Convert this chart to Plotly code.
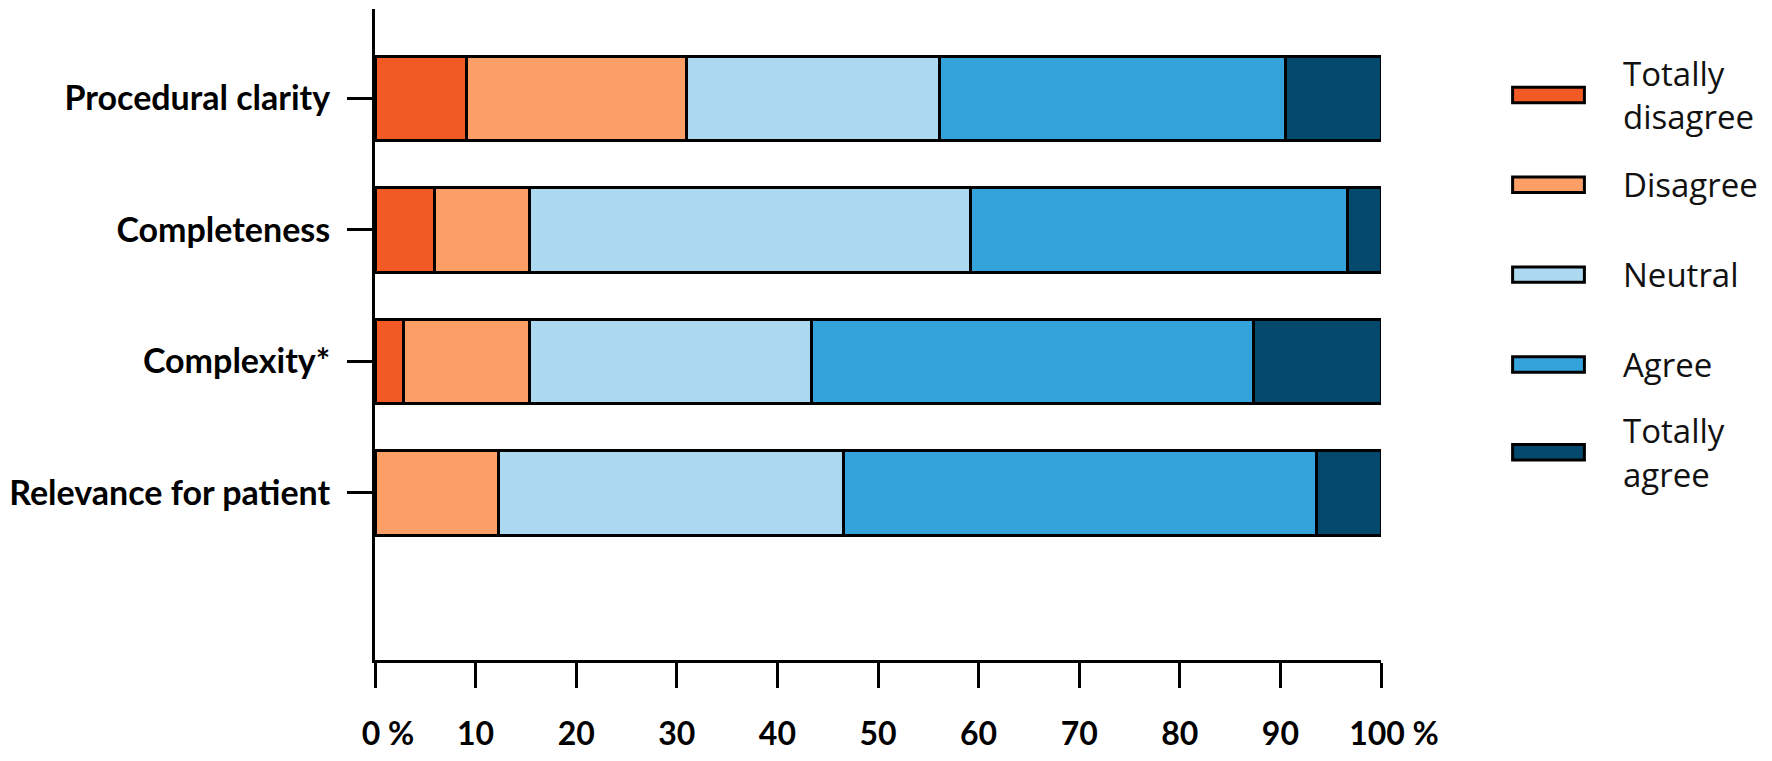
import plotly.graph_objects as go

# survey items, top to bottom
items = ["Procedural clarity", "Completeness", "Complexity*", "Relevance for patient"]

# answer shares per item (%)
totally_disagree = [9.1, 5.9, 2.8, 0.0]
disagree = [21.9, 9.5, 12.6, 12.3]
neutral = [25.1, 43.8, 28.0, 34.3]
agree = [34.4, 37.5, 43.9, 47.0]
totally_agree = [9.5, 3.3, 12.7, 6.4]

answers = ["Totally<br>disagree", "Disagree", "Neutral", "Agree", "Totally<br>agree"]
colors = ["#F15A24", "#FC9F66", "#ADD9F0", "#34A2DB", "#03486D"]

x_ticks = [0, 10, 20, 30, 40, 50, 60, 70, 80, 90, 100]
# pad the first/last label so the number sits on the tick and the % hangs right
x_ticktext = ["\u2003\u200a0 %", "10", "20", "30", "40", "50", "60", "70", "80", "90",
              "\u2003\u200a100 %"]

# page body has an 8px margin, so the figure is a bit smaller than the window
W, H = 1756, 745
left, right, top, bottom = 364, 1373, 1, 675

fig = go.Figure()
for name, vals, col in zip(answers, [totally_disagree, disagree, neutral, agree, totally_agree], colors):
    fig.add_trace(go.Bar(
        y=items, x=vals, name=name.replace("<br>", " "), orientation="h",
        marker=dict(color=col, line=dict(color="black", width=3)),
        width=0.64, showlegend=False,
    ))


def px_x(px):
    return (px - left) / (right - left)


def px_y(py):
    return (bottom - py) / (bottom - top)


# hand-made legend with wide swatches like the original
centers = [90, 183, 276, 369, 460]
for name, col, cy in zip(answers, colors, centers):
    fig.add_shape(type="rect", xref="paper", yref="paper",
                  x0=px_x(1505), x1=px_x(1577), y0=px_y(cy + 8), y1=px_y(cy - 8),
                  fillcolor=col, line=dict(color="black", width=3))
    lines = name.split("<br>")
    for i, txt in enumerate(lines):
        ly = cy + (i - (len(lines) - 1) / 2) * 45
        fig.add_annotation(text=txt, xref="paper", yref="paper",
                           x=px_x(1614), y=px_y(ly), xanchor="left", yanchor="middle",
                           showarrow=False,
                           font=dict(family="Open Sans", size=33, color="#111111"))

fig.update_layout(
    barmode="stack",
    width=W, height=H,
    margin=dict(l=left, r=W - right, t=top, b=H - bottom),
    plot_bgcolor="white", paper_bgcolor="white",
)
fig.update_xaxes(
    range=[0, 100], tickvals=x_ticks, ticktext=x_ticktext,
    showgrid=False, zeroline=False,
    showline=True, linecolor="black", linewidth=3,
    ticks="outside", ticklen=25, tickwidth=3, tickcolor="black",
    ticklabelstandoff=19,
    tickfont=dict(family="Lato", size=32, color="black", weight="bold"),
)
fig.update_yaxes(
    categoryorder="array", categoryarray=items,
    range=[4.27, -0.68],
    showgrid=False, zeroline=False,
    showline=True, linecolor="black", linewidth=3,
    ticks="outside", ticklen=25, tickwidth=3, tickcolor="black",
    ticklabelstandoff=10,
    tickfont=dict(family="Lato", size=34, color="black", weight="bold"),
)

fig.write_html("out.html")
